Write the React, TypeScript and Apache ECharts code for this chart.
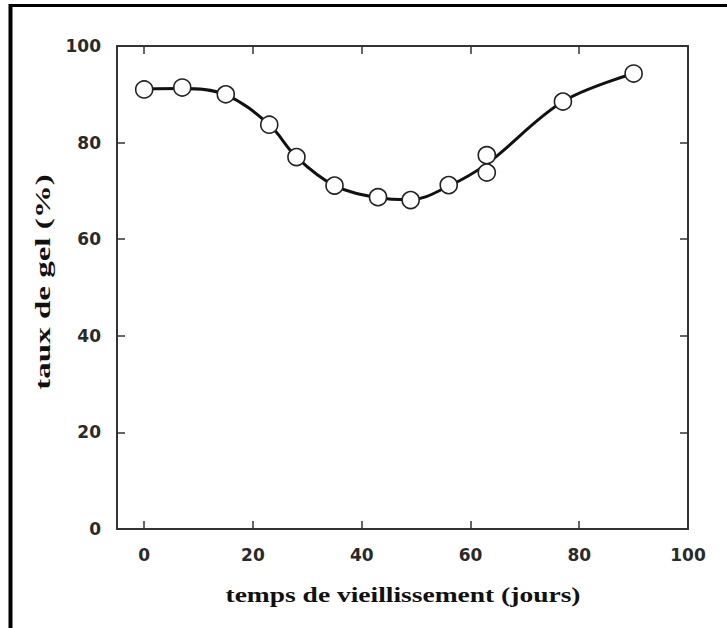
import React, { useEffect, useRef } from "react";
import * as echarts from "echarts";

// Measured points (days, gel rate %)
const daysX: number[] = [0, 7, 15, 23, 28, 35, 43, 49, 56, 63, 63, 77, 90];
const gelY: number[] = [91.0, 91.4, 90.0, 83.7, 77.0, 71.1, 68.7, 68.1, 71.2, 77.4, 73.8, 88.5, 94.3];

// Fitted smooth curve drawn through the points
const curveX: number[] = [0, 7, 15, 23, 28, 35, 43, 49, 56, 63, 77, 90];
const curveY: number[] = [91.1, 91.2, 89.9, 83.7, 77.0, 71.1, 68.6, 68.2, 71.0, 75.6, 88.5, 94.3];

const xTicks: number[] = [0, 20, 40, 60, 80, 100];
const xTitle = "temps de vieillissement (jours)";
const yTitle = "taux de gel (%)";

export default function App() {
  const ref = useRef<HTMLDivElement>(null);
  useEffect(() => {
    if (!ref.current) return;
    const chart = echarts.init(ref.current, null, { renderer: "svg" });
    const axisLine = { show: true, onZero: false, lineStyle: { color: "#333", width: 2 } };
    const tickStyle = { color: "#333", width: 1.5 };
    const labelStyle = {
      fontFamily: "DejaVu Sans",
      fontWeight: "bold" as const,
      fontSize: 17,
      color: "#2a2a2a",
    };
    chart.setOption({
      animation: false,
      backgroundColor: "#fff",
      grid: { left: 117, top: 46, right: 39, bottom: 99, containLabel: false },
      xAxis: [
        {
          type: "value",
          min: -5,
          max: 100,
          position: "bottom",
          axisLine,
          axisTick: { show: true, inside: true, length: 8, customValues: xTicks, lineStyle: tickStyle },
          axisLabel: { ...labelStyle, margin: 17, customValues: xTicks },
          splitLine: { show: false },
        },
        {
          type: "value",
          min: -5,
          max: 100,
          position: "top",
          axisLine,
          axisTick: { show: true, inside: true, length: 8, customValues: xTicks, lineStyle: tickStyle },
          axisLabel: { show: false, customValues: xTicks },
          splitLine: { show: false },
        },
      ],
      yAxis: [
        {
          type: "value",
          min: 0,
          max: 100,
          interval: 20,
          position: "left",
          axisLine,
          axisTick: { show: true, inside: true, length: 8, lineStyle: tickStyle },
          axisLabel: { ...labelStyle, margin: 16 },
          splitLine: { show: false },
        },
        {
          type: "value",
          min: 0,
          max: 100,
          interval: 20,
          position: "right",
          axisLine,
          axisTick: { show: true, inside: true, length: 8, lineStyle: tickStyle },
          axisLabel: { show: false },
          splitLine: { show: false },
        },
      ],
      graphic: [
        {
          type: "line",
          shape: { x1: 10.5, y1: 4, x2: 10.5, y2: 628 },
          style: { stroke: "#000", lineWidth: 4 },
        },
        {
          type: "line",
          shape: { x1: 9, y1: 5.5, x2: 727, y2: 5.5 },
          style: { stroke: "#000", lineWidth: 3 },
        },
        {
          type: "text",
          x: 403,
          y: 594,
          scaleX: 1.25,
          style: {
            text: xTitle,
            fontFamily: "Liberation Serif",
            fontWeight: "bold",
            fontSize: 22,
            fill: "#111",
            align: "center",
            verticalAlign: "middle",
            textAlign: "center",
            textVerticalAlign: "middle",
          },
        },
        {
          type: "text",
          x: 43,
          y: 282,
          rotation: Math.PI / 2,
          scaleX: 1.5,
          style: {
            text: yTitle,
            fontFamily: "Liberation Serif",
            fontWeight: "bold",
            fontSize: 22,
            fill: "#111",
            align: "center",
            verticalAlign: "middle",
            textAlign: "center",
            textVerticalAlign: "middle",
          },
        },
      ],
      series: [
        {
          type: "line",
          data: curveX.map((x, i) => [x, curveY[i]]),
          smooth: 0.35,
          symbol: "none",
          lineStyle: { color: "#111", width: 3 },
          z: 2,
        },
        {
          type: "scatter",
          data: daysX.map((x, i) => [x, gelY[i]]),
          symbol: "circle",
          symbolSize: 17,
          itemStyle: { color: "#fff", borderColor: "#222", borderWidth: 1.6, opacity: 1 },
          z: 3,
        },
      ],
    });
    return () => chart.dispose();
  }, []);
  return (
    <div
      ref={ref}
      style={{ position: "absolute", left: 0, top: 0, width: 727, height: 628 }}
    />
  );
}
